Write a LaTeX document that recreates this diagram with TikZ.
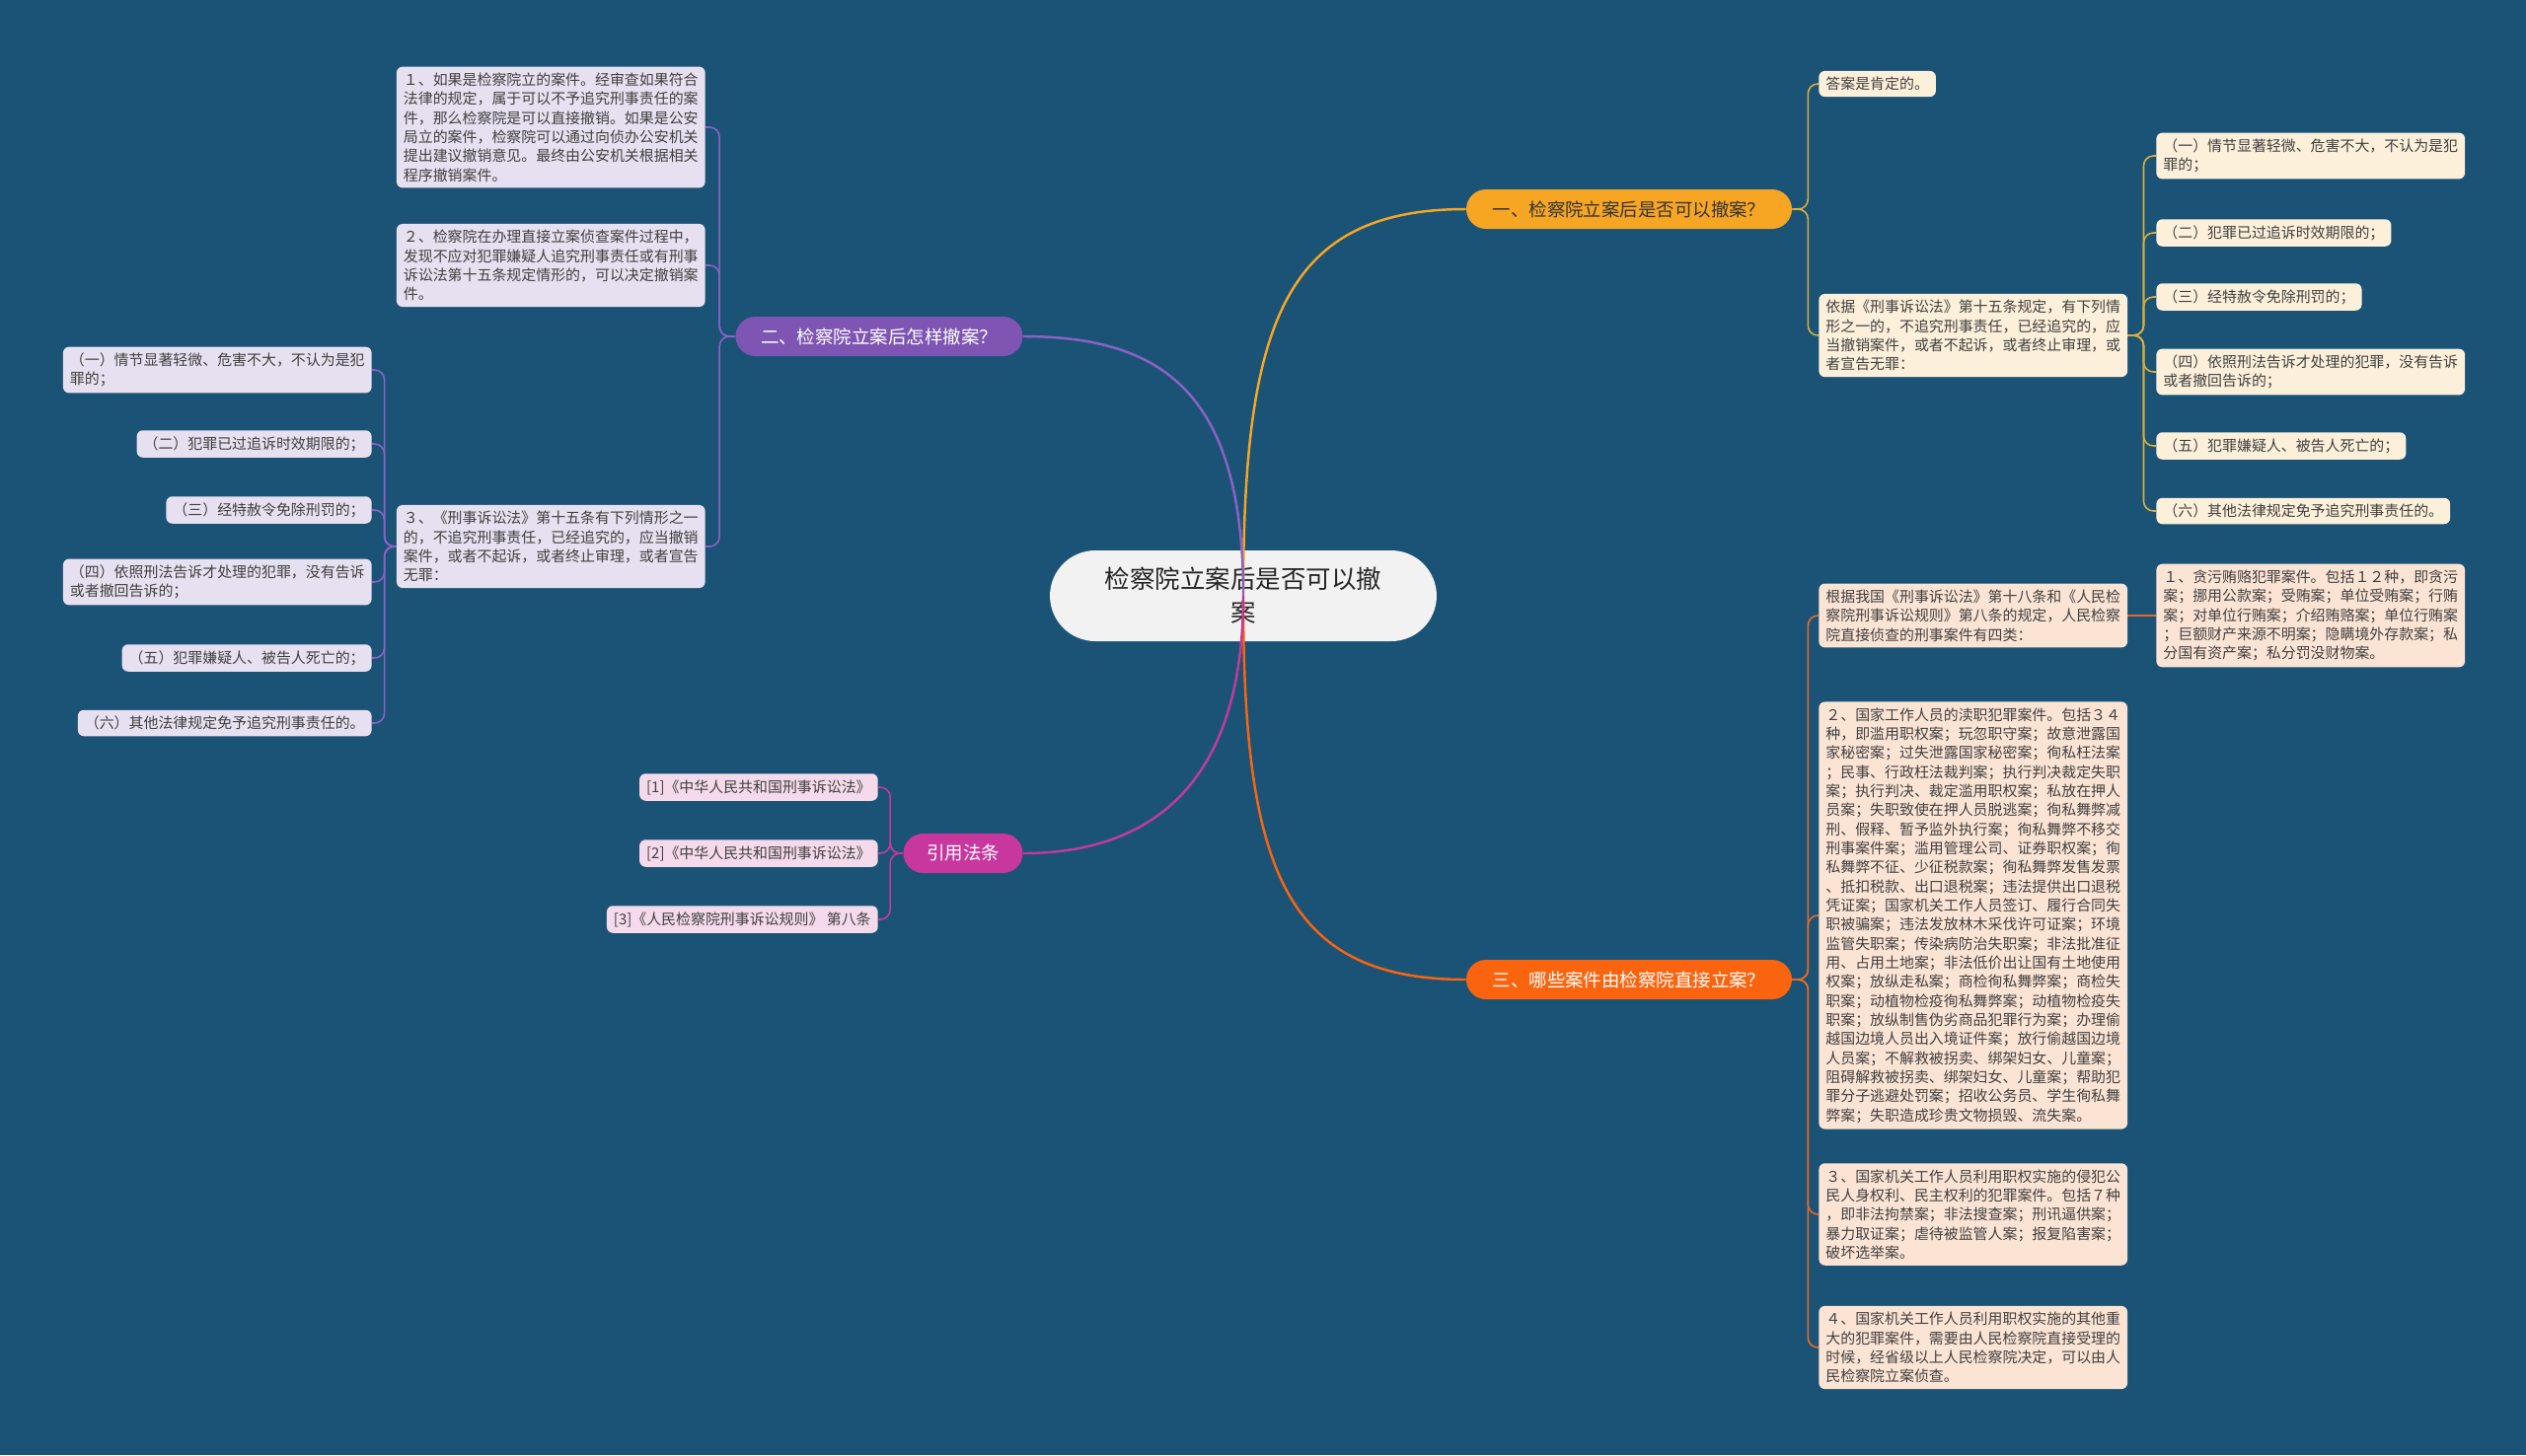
\documentclass[tikz,border=0pt]{standalone}
\usepackage{fontspec}
\setmainfont{Noto Sans CJK SC}
\usetikzlibrary{positioning,calc}

\definecolor{bgblue}{HTML}{1B5377}
\definecolor{cengray}{HTML}{F2F2F2}
\definecolor{yelbr}{HTML}{F6A623}
\definecolor{yelln}{HTML}{D9AE3C}
\definecolor{yelbox}{HTML}{FDF0DA}
\definecolor{purbr}{HTML}{7E55B3}
\definecolor{purln}{HTML}{8A62C4}
\definecolor{purbox}{HTML}{E7E0F0}
\definecolor{orabr}{HTML}{FA640F}
\definecolor{oraln}{HTML}{EA6A24}
\definecolor{orabox}{HTML}{FCE4D4}
\definecolor{magbr}{HTML}{C8379E}
\definecolor{magln}{HTML}{C23A9C}
\definecolor{magbox}{HTML}{F5DAEB}

\begin{document}
\begin{tikzpicture}[
  x=0.02cm, y=-0.02cm,
  leaf/.style={rounded corners=3.5pt, inner xsep=4pt, inner ysep=3.5pt,
               align=left, font=\fontsize{8.5}{11}\selectfont, text=black!75},
  branch/.style={rounded corners=0.4cm, minimum height=0.8cm, inner xsep=0pt,
                 font=\fontsize{10.5}{12}\selectfont, text=white},
  main/.style={line width=1.4pt},
  twig/.style={line width=0.9pt, rounded corners=0.2cm}
]
  % Background
  \fill[bgblue] (0,0) rectangle (2560,1475);
  \useasboundingbox (0,0) rectangle (2560,1475);

  % Centre
  \node[fill=cengray, rounded corners=0.92cm, minimum width=7.84cm, minimum height=1.84cm,
        align=center, font=\fontsize{14.5}{19.5}\selectfont, text=black!85] (cen)
    at (1260,604) {检察院立案后是否可以撤\\案};

  % Branches
  \node[branch, fill=yelbr, text=black!80, minimum width=6.6cm] (b1) at (1651,212)
    {一、检察院立案后是否可以撤案？};
  \node[branch, fill=purbr, minimum width=5.82cm] (b2) at (891,341)
    {二、检察院立案后怎样撤案？};
  \node[branch, fill=orabr, minimum width=6.6cm] (b3) at (1651,993)
    {三、哪些案件由检察院直接立案？};
  \node[branch, fill=magbr, minimum width=2.42cm] (b4) at (976,865)
    {引用法条};

  % Branch one
  \node[leaf, fill=yelbox, anchor=west] (ans) at (1843,85) {答案是肯定的。};
  \node[leaf, fill=yelbox, anchor=west] (yj) at (1843,340)
    {依据《刑事诉讼法》第十五条规定，有下列情\\形之一的，不追究刑事责任，已经追究的，应\\当撤销案件，或者不起诉，或者终止审理，或\\者宣告无罪：};
  \node[leaf, fill=yelbox, anchor=west] (r1) at (2185,158)
    {（一）情节显著轻微、危害不大，不认为是犯\\罪的；};
  \node[leaf, fill=yelbox, anchor=west] (r2) at (2185,236) {（二）犯罪已过追诉时效期限的；};
  \node[leaf, fill=yelbox, anchor=west] (r3) at (2185,301) {（三）经特赦令免除刑罚的；};
  \node[leaf, fill=yelbox, anchor=west] (r4) at (2185,377)
    {（四）依照刑法告诉才处理的犯罪，没有告诉\\或者撤回告诉的；};
  \node[leaf, fill=yelbox, anchor=west] (r5) at (2185,452) {（五）犯罪嫌疑人、被告人死亡的；};
  \node[leaf, fill=yelbox, anchor=west] (r6) at (2185,518) {（六）其他法律规定免予追究刑事责任的。};

  % Branch two
  \node[leaf, fill=purbox, anchor=east] (k1) at (715,129)
    {１、如果是检察院立的案件。经审查如果符合\\法律的规定，属于可以不予追究刑事责任的案\\件，那么检察院是可以直接撤销。如果是公安\\局立的案件，检察院可以通过向侦办公安机关\\提出建议撤销意见。最终由公安机关根据相关\\程序撤销案件。};
  \node[leaf, fill=purbox, anchor=east] (k2) at (715,269)
    {２、检察院在办理直接立案侦查案件过程中，\\发现不应对犯罪嫌疑人追究刑事责任或有刑事\\诉讼法第十五条规定情形的，可以决定撤销案\\件。};
  \node[leaf, fill=purbox, anchor=east] (k3) at (715,554)
    {３、《刑事诉讼法》第十五条有下列情形之一\\的，不追究刑事责任，已经追究的，应当撤销\\案件，或者不起诉，或者终止审理，或者宣告\\无罪：};
  \node[leaf, fill=purbox, anchor=east] (l1) at (377,375)
    {（一）情节显著轻微、危害不大，不认为是犯\\罪的；};
  \node[leaf, fill=purbox, anchor=east] (l2) at (377,450) {（二）犯罪已过追诉时效期限的；};
  \node[leaf, fill=purbox, anchor=east] (l3) at (377,517) {（三）经特赦令免除刑罚的；};
  \node[leaf, fill=purbox, anchor=east] (l4) at (377,590)
    {（四）依照刑法告诉才处理的犯罪，没有告诉\\或者撤回告诉的；};
  \node[leaf, fill=purbox, anchor=east] (l5) at (377,667) {（五）犯罪嫌疑人、被告人死亡的；};
  \node[leaf, fill=purbox, anchor=east] (l6) at (377,733) {（六）其他法律规定免予追究刑事责任的。};

  % Branch three
  \node[leaf, fill=orabox, anchor=west] (gj) at (1843,624)
    {根据我国《刑事诉讼法》第十八条和《人民检\\察院刑事诉讼规则》第八条的规定，人民检察\\院直接侦查的刑事案件有四类：};
  \node[leaf, fill=orabox, anchor=west] (t1) at (2185,624)
    {１、贪污贿赂犯罪案件。包括１２种，即贪污\\案；挪用公款案；受贿案；单位受贿案；行贿\\案；对单位行贿案；介绍贿赂案；单位行贿案\\；巨额财产来源不明案；隐瞒境外存款案；私\\分国有资产案；私分罚没财物案。};
  \node[leaf, fill=orabox, anchor=west] (t2) at (1843,928)
    {２、国家工作人员的渎职犯罪案件。包括３４\\种，即滥用职权案；玩忽职守案；故意泄露国\\家秘密案；过失泄露国家秘密案；徇私枉法案\\；民事、行政枉法裁判案；执行判决裁定失职\\案；执行判决、裁定滥用职权案；私放在押人\\员案；失职致使在押人员脱逃案；徇私舞弊减\\刑、假释、暂予监外执行案；徇私舞弊不移交\\刑事案件案；滥用管理公司、证券职权案；徇\\私舞弊不征、少征税款案；徇私舞弊发售发票\\、抵扣税款、出口退税案；违法提供出口退税\\凭证案；国家机关工作人员签订、履行合同失\\职被骗案；违法发放林木采伐许可证案；环境\\监管失职案；传染病防治失职案；非法批准征\\用、占用土地案；非法低价出让国有土地使用\\权案；放纵走私案；商检徇私舞弊案；商检失\\职案；动植物检疫徇私舞弊案；动植物检疫失\\职案；放纵制售伪劣商品犯罪行为案；办理偷\\越国边境人员出入境证件案；放行偷越国边境\\人员案；不解救被拐卖、绑架妇女、儿童案；\\阻碍解救被拐卖、绑架妇女、儿童案；帮助犯\\罪分子逃避处罚案；招收公务员、学生徇私舞\\弊案；失职造成珍贵文物损毁、流失案。};
  \node[leaf, fill=orabox, anchor=west] (t3) at (1843,1231)
    {３、国家机关工作人员利用职权实施的侵犯公\\民人身权利、民主权利的犯罪案件。包括７种\\，即非法拘禁案；非法搜查案；刑讯逼供案；\\暴力取证案；虐待被监管人案；报复陷害案；\\破坏选举案。};
  \node[leaf, fill=orabox, anchor=west] (t4) at (1843,1366)
    {４、国家机关工作人员利用职权实施的其他重\\大的犯罪案件，需要由人民检察院直接受理的\\时候，经省级以上人民检察院决定，可以由人\\民检察院立案侦查。};

  % Branch four
  \node[leaf, fill=magbox, anchor=east] (f1) at (890,798) {[1]《中华人民共和国刑事诉讼法》};
  \node[leaf, fill=magbox, anchor=east] (f2) at (890,865) {[2]《中华人民共和国刑事诉讼法》};
  \node[leaf, fill=magbox, anchor=east] (f3) at (890,932) {[3]《人民检察院刑事诉讼规则》~第八条};

  % Main curves
  \draw[main, yelbr] (cen.center) .. controls (1260,330) and (1300,212) .. (b1.west);
  \draw[main, orabr] (cen.center) .. controls (1260,878) and (1300,993) .. (b3.west);
  \draw[main, purln] (cen.center) .. controls (1260,400) and (1180,341) .. (b2.east);
  \draw[main, magln] (cen.center) .. controls (1260,780) and (1180,865) .. (b4.east);

  % Twigs, branch one
  \draw[twig, yelln] (b1.east) -- ++(16,0) |- (ans.west);
  \draw[twig, yelln] (b1.east) -- ++(16,0) |- (yj.west);
  \draw[twig, yelln] (yj.east) -- ++(16,0) |- (r1.west);
  \draw[twig, yelln] (yj.east) -- ++(16,0) |- (r2.west);
  \draw[twig, yelln] (yj.east) -- ++(16,0) |- (r3.west);
  \draw[twig, yelln] (yj.east) -- ++(16,0) |- (r4.west);
  \draw[twig, yelln] (yj.east) -- ++(16,0) |- (r5.west);
  \draw[twig, yelln] (yj.east) -- ++(16,0) |- (r6.west);

  % Twigs, branch two
  \draw[twig, purln] (b2.west) -- ++(-16,0) |- (k1.east);
  \draw[twig, purln] (b2.west) -- ++(-16,0) |- (k2.east);
  \draw[twig, purln] (b2.west) -- ++(-16,0) |- (k3.east);
  \draw[twig, purln] (k3.west) -- ++(-12,0) |- (l1.east);
  \draw[twig, purln] (k3.west) -- ++(-12,0) |- (l2.east);
  \draw[twig, purln] (k3.west) -- ++(-12,0) |- (l3.east);
  \draw[twig, purln] (k3.west) -- ++(-12,0) |- (l4.east);
  \draw[twig, purln] (k3.west) -- ++(-12,0) |- (l5.east);
  \draw[twig, purln] (k3.west) -- ++(-12,0) |- (l6.east);

  % Twigs, branch three
  \draw[twig, oraln] (b3.east) -- ++(16,0) |- (gj.west);
  \draw[twig, oraln] (b3.east) -- ++(16,0) |- (t2.west);
  \draw[twig, oraln] (b3.east) -- ++(16,0) |- (t3.west);
  \draw[twig, oraln] (b3.east) -- ++(16,0) |- (t4.west);
  \draw[twig, oraln] (gj.east) -- (t1.west);

  % Twigs, branch four
  \draw[twig, magln] (b4.west) -- ++(-13,0) |- (f1.east);
  \draw[twig, magln] (b4.west) -- ++(-13,0) |- (f2.east);
  \draw[twig, magln] (b4.west) -- ++(-13,0) |- (f3.east);
\end{tikzpicture}
\end{document}
